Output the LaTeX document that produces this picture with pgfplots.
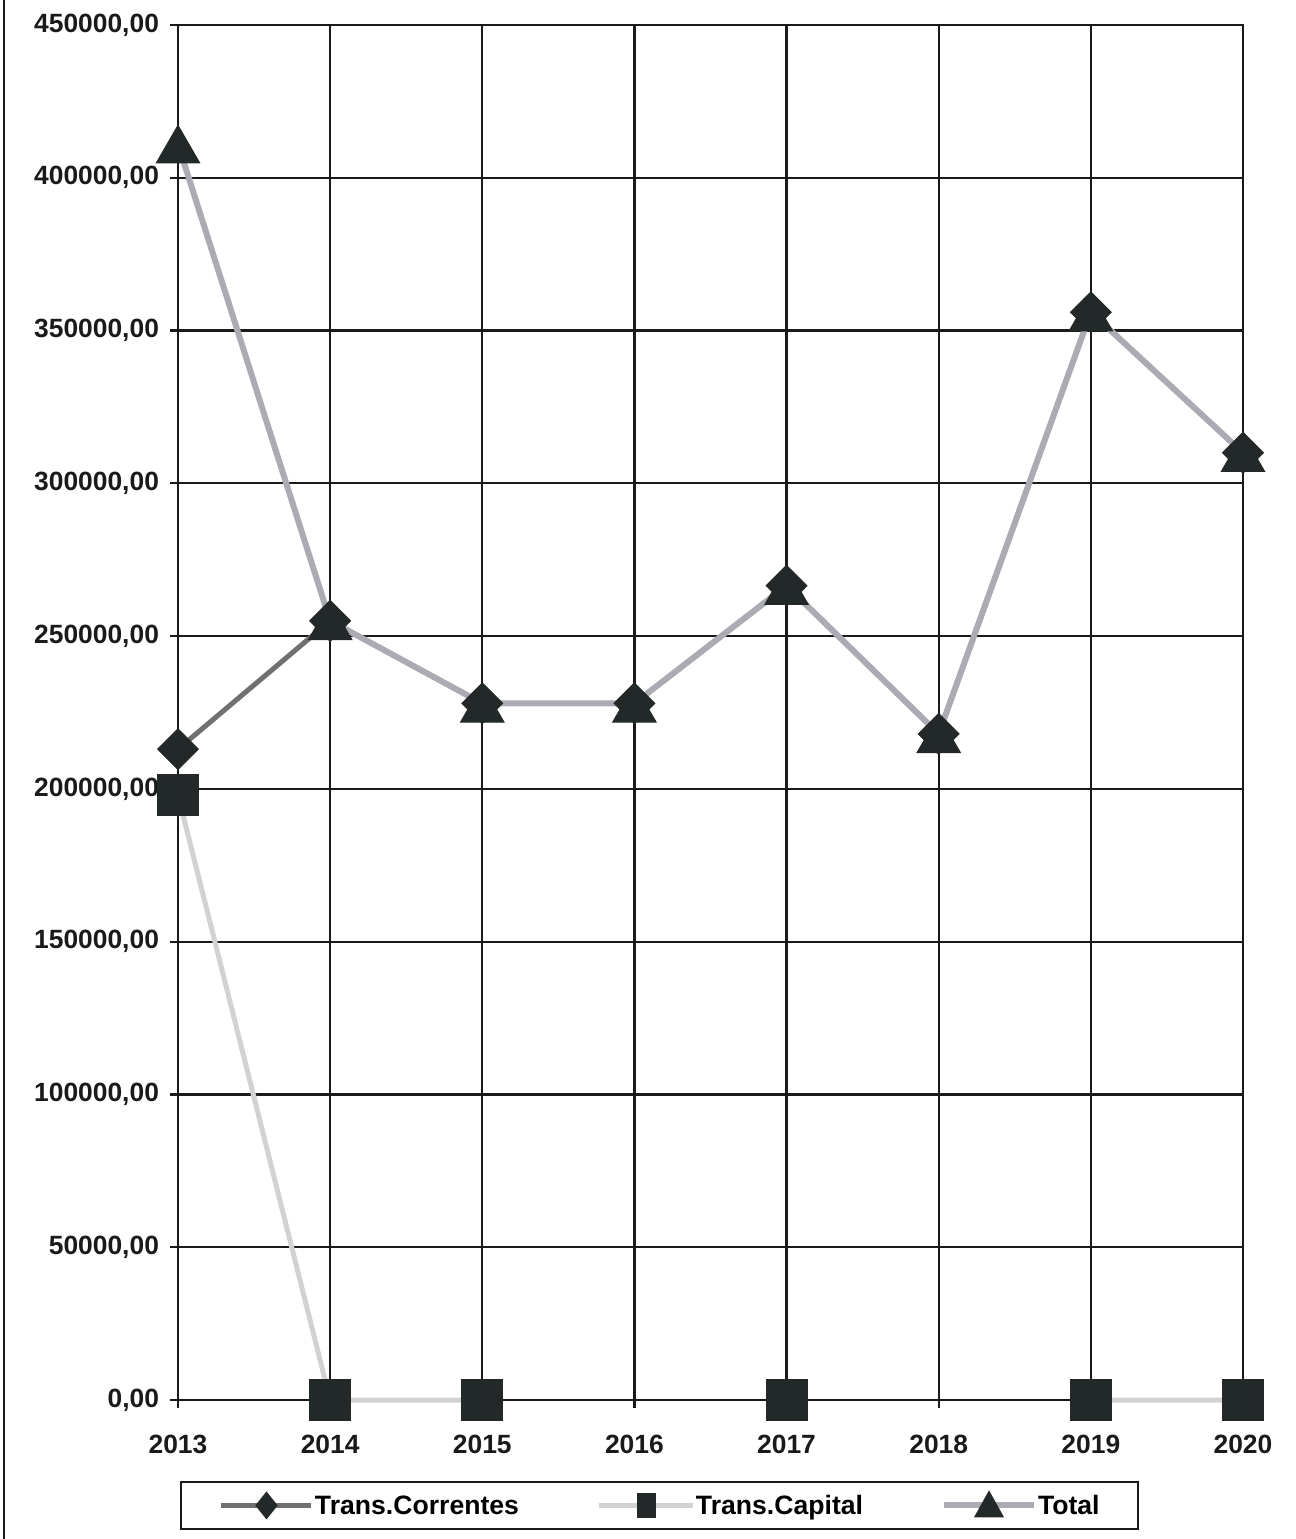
\documentclass[border=0pt]{standalone}
\usepackage{fontspec}
\setmainfont{Liberation Sans}
\usepackage{pgfplots}
\pgfplotsset{compat=1.18}

\definecolor{gridc}{HTML}{1A1A1A}
\definecolor{markc}{HTML}{232828}
\definecolor{corr}{HTML}{707070}
\definecolor{capc}{HTML}{D2D2D2}
\definecolor{totc}{HTML}{ABABB3}

\begin{document}
\begin{tikzpicture}
\useasboundingbox (-89pt,-69.5pt) rectangle (559pt,700pt);
% page frame line on the left
\draw[line width=1pt, gridc] (-87pt,-69.5pt) -- (-87pt,700pt);
\begin{axis}[
    at={(0pt,0pt)}, anchor=south west,
    scale only axis,
    width=532.5pt, height=687.5pt,
    xmin=2013, xmax=2020,
    ymin=0, ymax=450000,
    xtick={2013,2014,2015,2016,2017,2018,2019,2020},
    xticklabels={2013,2014,2015,2016,2017,2018,2019,2020},
    ytick={0,50000,100000,150000,200000,250000,300000,350000,400000,450000},
    scaled y ticks=false,
    yticklabel style={xshift=-2pt, /pgf/number format/.cd, fixed, fixed zerofill, precision=2, use comma, 1000 sep={}},
    xticklabel style={yshift=-10pt},
    /pgf/number format/assume math mode=true,
    tick label style={font=\fontsize{13.2}{15}\selectfont\bfseries, text=gridc},
    grid=major,
    major grid style={gridc, line width=1.1pt},
    axis line style={gridc, line width=1.1pt},
    tick style={gridc, line width=1.1pt},
    tick align=outside,
    tick pos=left,
    major tick length=4pt,
    unbounded coords=jump,
    clip=false,
    legend columns=3,
    legend style={at={(0.00188,-0.0589)}, anchor=north west,
        draw=gridc, line width=1pt,
        inner xsep=19pt, inner ysep=5.5pt,
        font=\fontsize{13.3}{15}\selectfont\bfseries,
        nodes={inner sep=0pt, text height=9.5pt, text depth=0pt},
        /tikz/every odd column/.append style={column sep=0.5pt},
        /tikz/every even column/.append style={column sep=39pt}},
]

% Trans.Correntes
\addplot[corr, line width=2.5pt, mark=square*, mark size=7.2pt,
    mark options={rotate=45, fill=markc, draw=markc, line width=0.5pt},
    legend image code/.code={
        \draw[corr, line width=2.5pt] (0pt,0pt) -- (45pt,0pt);
        \fill[markc] (22.5pt,5pt) -- (26.5pt,0pt) -- (22.5pt,-5pt) -- (18.5pt,0pt) -- cycle;
    }]
coordinates {(2013,213000) (2014,255000) (2015,228000) (2016,228000) (2017,266500) (2018,218000) (2019,356000) (2020,310000)};

% Trans.Capital
\addplot[capc, line width=2.5pt, mark=square*, mark size=10.25pt,
    mark options={fill=markc, draw=markc, line width=0.5pt},
    legend image code/.code={
        \draw[capc, line width=2.5pt] (0pt,0pt) -- (46.5pt,0pt);
        \fill[markc] (19.75pt,-5pt) rectangle (26.75pt,5pt);
    }]
coordinates {(2013,198000) (2014,0) (2015,0) (2016,nan) (2017,0) (2018,nan) (2019,0) (2020,0)};

% Total
\addplot[totc, line width=3pt, mark=triangle*, mark size=12.5pt,
    mark options={yshift=-3.1pt, fill=markc, draw=markc, line width=0.5pt},
    legend image code/.code={
        \draw[totc, line width=3pt] (0pt,0pt) -- (45pt,0pt);
        \fill[markc] (17.5pt,-4.5pt) -- (27.5pt,-4.5pt) -- (22.5pt,4.5pt) -- cycle;
    }]
coordinates {(2013,411000) (2014,255000) (2015,228000) (2016,228000) (2017,266500) (2018,218000) (2019,356000) (2020,310000)};

\legend{Trans.Correntes,Trans.Capital,Total}
\end{axis}
\end{tikzpicture}
\end{document}
